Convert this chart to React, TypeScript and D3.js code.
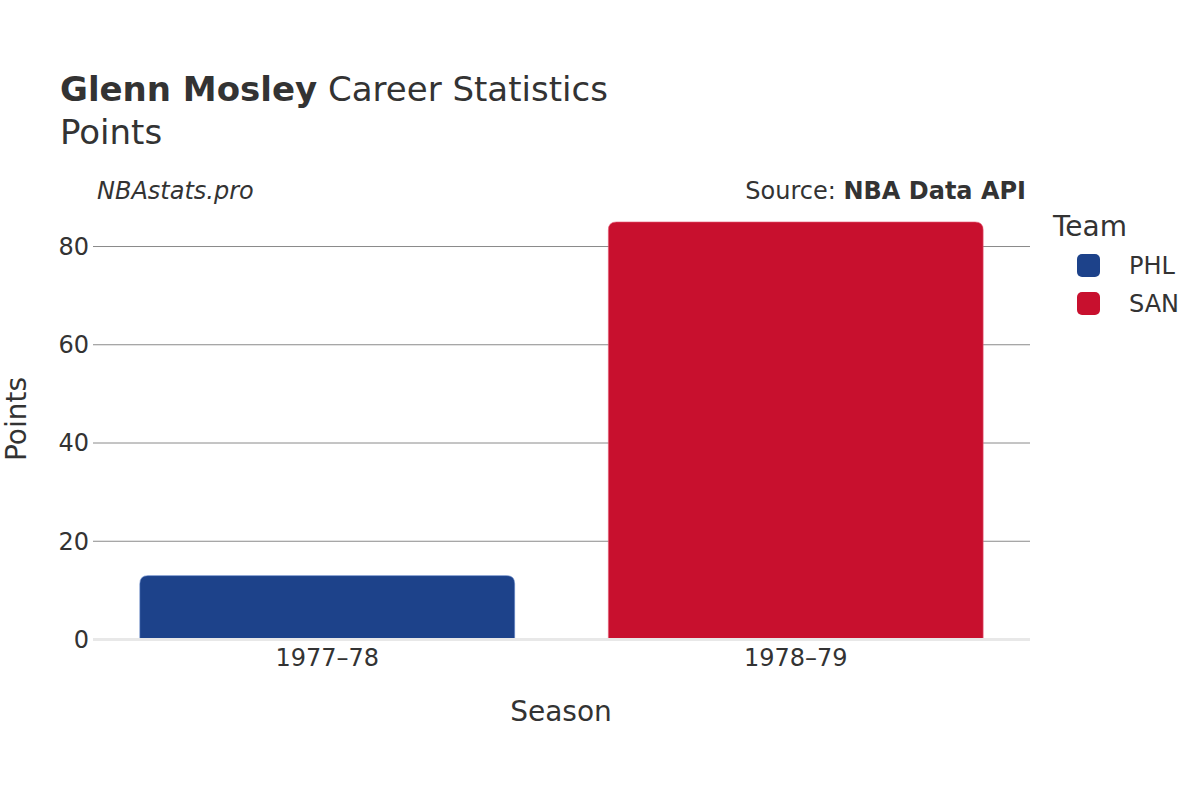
import React from "react";
import * as d3 from "d3";

const seasons = ["1977–78", "1978–79"];
const teams = ["PHL", "SAN"];
const points = [13, 85];
const teamColors = ["#1D428A", "#C8102E"];
const yTicks = [0, 20, 40, 60, 80];

const W = 1200;
const H = 800;
const FONT = "'DejaVu Sans', sans-serif";
const TXT = "#333333";

function topRoundedRect(x: number, y: number, w: number, h: number, r: number) {
  const rr = Math.min(r, h / 2, w / 2);
  return `M${x},${y + h}L${x},${y + rr}Q${x},${y} ${x + rr},${y}L${x + w - rr},${y}Q${x + w},${y} ${x + w},${y + rr}L${x + w},${y + h}Z`;
}

export default function App() {
  const x = d3.scaleBand<string>().domain(seasons).range([93, 1030]).paddingInner(0.2).paddingOuter(0.1);
  const y = d3.scaleLinear().domain([0, 89.47]).range([639.5, 200]);

  return (
    <svg
      width={W}
      height={H}
      style={{ display: "block", background: "#fff", position: "absolute", left: 0, top: 0 }}
      fontFamily={FONT}
    >
      <text x={60} y={101} fontSize={34} fill={TXT}>
        <tspan fontWeight="bold">Glenn Mosley</tspan>
        <tspan> Career Statistics</tspan>
      </text>
      <text x={60} y={144} fontSize={34} fill={TXT}>Points</text>

      <text x={97} y={199} fontSize={24} fontStyle="italic" fill={TXT}>NBAstats.pro</text>
      <text x={1026} y={199} fontSize={24} textAnchor="end" fill={TXT}>
        <tspan>Source: </tspan>
        <tspan fontWeight="bold">NBA Data API</tspan>
      </text>

      {yTicks.filter((t) => t !== 0).map((t) => (
        <line key={t} x1={93} x2={1030} y1={y(t)} y2={y(t)} stroke="#8a8a8a" strokeWidth={1} />
      ))}
      {yTicks.map((t) => (
        <text key={t} x={89} y={y(t)} dy="0.35em" fontSize={24} textAnchor="end" fill={TXT}>{t}</text>
      ))}

      {seasons.map((s, i) => {
        const bx = x(s)!;
        const bw = x.bandwidth();
        const top = y(points[i]);
        return (
          <path
            key={s}
            d={topRoundedRect(bx, top, bw, y(0) - top, 8)}
            fill={teamColors[i]}
            stroke={i === 0 ? "#5a7fc4" : "#e8607a"}
            strokeWidth={0.6}
          />
        );
      })}
      <line x1={93} x2={1030} y1={y(0)} y2={y(0)} stroke="#e8e8e8" strokeWidth={3} />

      {seasons.map((s) => (
        <text key={s} x={x(s)! + x.bandwidth() / 2} y={666} fontSize={24} textAnchor="middle" fill={TXT}>{s}</text>
      ))}

      <text x={561} y={721} fontSize={28} textAnchor="middle" fill={TXT}>Season</text>
      <text transform="translate(26,419) rotate(-90)" fontSize={28} textAnchor="middle" fill={TXT}>Points</text>

      <text x={1053} y={236} fontSize={28} fill={TXT}>Team</text>
      {teams.map((t, i) => (
        <g key={t} transform={`translate(0,${i * 38})`}>
          <rect x={1077} y={254} width={23} height={23} rx={5} fill={teamColors[i]} />
          <text x={1129} y={266} dy="0.35em" fontSize={24} fill={TXT}>{t}</text>
        </g>
      ))}
    </svg>
  );
}
